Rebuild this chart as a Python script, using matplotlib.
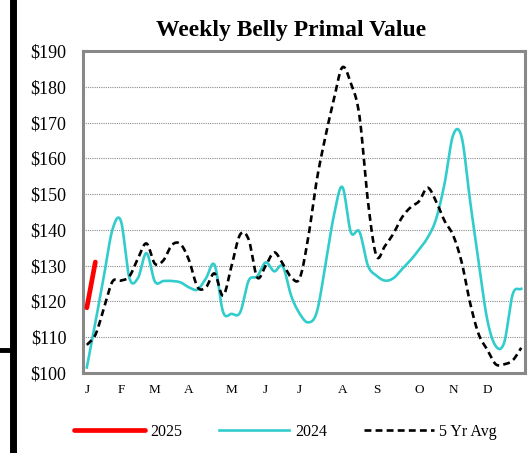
import numpy as np
import matplotlib
matplotlib.use("Agg")
from matplotlib import pyplot as plt
from matplotlib.lines import Line2D

# Weekly values (weeks 1..52)
weeks = np.arange(1, 53)
values_2025 = [118.2, 131.0]
values_2024 = [101.5, 114.0, 127.0, 140.0, 142.5, 126.5, 126.5, 133.5, 125.5, 125.7,
               125.7, 125.3, 123.9, 123.3, 126.5, 130.2, 117.0, 116.5, 116.9, 125.8,
               127.0, 130.9, 128.4, 129.8, 121.5, 116.5, 114.1, 117.0, 130.0, 144.0,
               152.0, 139.3, 139.5, 130.0, 127.2, 125.8, 126.5, 129.0, 131.5, 134.5,
               137.8, 143.0, 153.0, 166.5, 166.0, 148.0, 131.0, 115.0, 107.5, 108.5,
               122.0, 123.5]
values_5yr = [107.8, 110.6, 118.0, 125.5, 125.8, 127.0, 132.0, 136.2, 130.5, 131.5,
              135.8, 136.0, 131.5, 124.0, 124.0, 127.8, 121.6, 130.0, 138.7, 137.3,
              126.7, 130.0, 133.7, 130.5, 126.7, 126.5, 138.0, 154.0, 166.0, 176.5,
              185.5, 181.0, 172.0, 148.0, 132.7, 135.5, 139.0, 143.5, 146.3, 148.0,
              151.8, 148.0, 142.5, 138.5, 131.0, 119.5, 110.8, 106.5, 102.4, 102.4,
              103.5, 107.0]

month_weeks = [1, 5, 9, 13, 18, 22, 26, 31, 35, 40, 44, 48]
month_labels = ["J", "F", "M", "A", "M", "J", "J", "A", "S", "O", "N", "D"]
y_ticks = list(range(100, 200, 10))


# Catmull-Rom curve through the points, like Excel's smoothed lines
def smooth(x, y, n=12):
    x = np.asarray(x, float)
    y = np.asarray(y, float)
    if len(x) < 3:
        return x, y
    px = np.concatenate([[2 * x[0] - x[1]], x, [2 * x[-1] - x[-2]]])
    py = np.concatenate([[2 * y[0] - y[1]], y, [2 * y[-1] - y[-2]]])
    t = np.linspace(0, 1, n, endpoint=False)
    xs, ys = [], []
    for i in range(1, len(px) - 2):
        for p, out in ((px, xs), (py, ys)):
            p0, p1, p2, p3 = p[i - 1], p[i], p[i + 1], p[i + 2]
            out.extend(0.5 * ((2 * p1) + (-p0 + p2) * t
                              + (2 * p0 - 5 * p1 + 4 * p2 - p3) * t ** 2
                              + (-p0 + 3 * p1 - 3 * p2 + p3) * t ** 3))
    xs.append(x[-1])
    ys.append(y[-1])
    return np.array(xs), np.array(ys)


serif = "Liberation Serif"
fig = plt.figure(figsize=(5.32, 4.53), dpi=100)
ax = fig.add_axes([0.156, 0.177, 0.831, 0.710])

x24, y24 = smooth(weeks, values_2024)
x5, y5 = smooth(weeks, values_5yr)
ax.plot(weeks[:len(values_2025)], values_2025, color="#ff0000", lw=3.4,
        solid_capstyle="round", label="2025", zorder=4)
ax.plot(x24, y24, color="#33cccc", lw=1.9, label="2024", zorder=3)
ax.plot(x5, y5, color="black", lw=1.9, linestyle=(0, (2.6, 1.6)),
        label="5 Yr Avg", zorder=3)

ax.set_xlim(0.55, 52.45)
ax.set_ylim(100, 190)
ax.set_yticks(y_ticks)
ax.set_yticklabels([f"${v}" for v in y_ticks], fontfamily=serif, fontsize=13)
ax.set_xticks(month_weeks)
ax.set_xticklabels(month_labels, fontfamily=serif, fontsize=9.5)
ax.tick_params(axis="y", length=0, pad=12)
ax.tick_params(axis="x", length=0, pad=8)
for v in y_ticks[1:-1]:
    ax.axhline(v, color="#8c8c8c", lw=0.8, linestyle=(0, (1, 1)), zorder=1)
for s in ax.spines.values():
    s.set_color("#888888")
    s.set_linewidth(2.2)

ax.set_title("Weekly Belly Primal Value", fontfamily=serif, fontsize=17,
             fontweight="bold", pad=11, x=0.47)

fig.legend(loc="center", bbox_to_anchor=(0.537, 1 - 432 / 453), ncol=3,
           frameon=False, prop={"family": serif, "size": 11.5},
           handlelength=4.4, handletextpad=0.35, columnspacing=2.3)

# black page border marks on the left
fig.add_artist(Line2D([12.5 / 532, 12.5 / 532], [0, 1], color="black", lw=5,
                      transform=fig.transFigure))
fig.add_artist(Line2D([0, 12 / 532], [1 - 350 / 453, 1 - 350 / 453], color="black",
                      lw=3.5, transform=fig.transFigure))

fig.savefig("out.png", dpi=100)
